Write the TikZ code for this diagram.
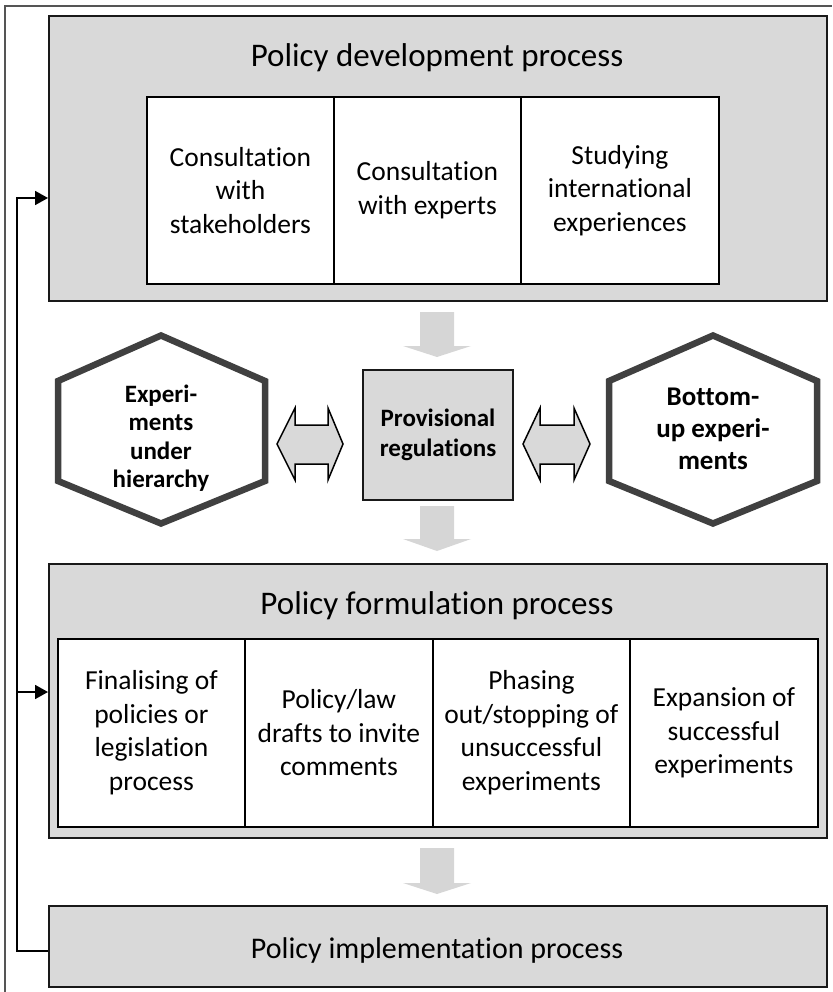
\documentclass[tikz,border=0pt]{standalone}
\usepackage{fontspec}
\setmainfont{Carlito}[RawFeature={-liga;-rlig;-clig;-calt;-dlig}]
\usetikzlibrary{arrows.meta}
\definecolor{boxgray}{HTML}{D9D9D9}
\definecolor{arrowgray}{HTML}{D6D6D6}
\definecolor{hexline}{HTML}{404040}
\definecolor{framegray}{HTML}{555555}
\begin{document}
\begin{tikzpicture}[x=1pt,y=-1pt,
  proc/.style={draw=black!90, line width=2pt, fill=boxgray, inner sep=0pt, anchor=north west},
  cell/.style={draw=black, line width=1.8pt, fill=white, align=center, inner sep=0pt, anchor=north west, font=\fontsize{27.5}{33.5}\selectfont},
  ttl/.style={anchor=base, font=\fontsize{33}{39}\selectfont, inner sep=0pt},
  hexfr/.style={draw=hexline, line width=6.5pt, fill=white, line join=miter},
  btxt/.style={align=center, font=\fontsize{25}{29.5}\selectfont\bfseries, inner sep=0pt},
  darr/.style={fill=arrowgray, draw=none},
  harr/.style={fill=boxgray, draw=black, line width=1.5pt, line join=miter},
  fb/.style={draw=black, line width=1.8pt},
  fbarrow/.style={fb, -{Triangle[length=13pt,width=14pt]}}
]
\useasboundingbox (0,0) rectangle (832,992);
% outer frame
\draw[framegray, line width=1.5pt] (5,992) -- (5,6) -- (832,6);

% development process
\node[proc, minimum width=778pt, minimum height=285pt] (dev) at (48,15) {};
\node[ttl] (devt) at (437,67) {Policy development process};
\node[cell, minimum width=187pt, minimum height=187pt] (d1) at (146,96) {Consultation\\with\\stakeholders};
\node[cell, minimum width=187pt, minimum height=187pt] (d2) at (333,96) {Consultation\\with experts};
\node[cell, minimum width=198pt, minimum height=187pt] (d3) at (520,96) {Studying\\international\\experiences};

% down arrow 1
\fill[darr] (420,312) -- (454,312) -- (454,346) -- (471,346) -- (437,357) -- (403,346) -- (420,346) -- cycle;

% middle row
\draw[hexfr] (161,335.5) -- (265,381) -- (265,481) -- (161,523.5) -- (58,481) -- (58,381) -- cycle;
\node[btxt, font=\fontsize{25}{28.5}\selectfont\bfseries] (hexLt) at (161,438) {Experi-\\ments\\under\\hierarchy};

\node[proc, minimum width=150pt, minimum height=130pt] (prov) at (362,369) {};
\node[btxt] (provt) at (prov.center) {Provisional\\regulations};

\draw[hexfr] (713,335.5) -- (817,381) -- (817,481) -- (713,523.5) -- (609,481) -- (609,381) -- cycle;
\node[btxt, font=\fontsize{27}{32}\selectfont\bfseries] (hexRt) at (713,429) {Bottom-\\up experi-\\ments};

\draw[harr] (277,444) -- (295,408) -- (295,425) -- (328,425) -- (328,408) -- (343,444) -- (328,480) -- (328,464) -- (295,464) -- (295,480) -- cycle;
\draw[harr] (523,444) -- (540,408) -- (540,425) -- (574,425) -- (574,408) -- (590,444) -- (574,480) -- (574,464) -- (540,464) -- (540,480) -- cycle;

% down arrow 2
\fill[darr] (420,506) -- (454,506) -- (454,539) -- (471,539) -- (437,551) -- (403,539) -- (420,539) -- cycle;

% formulation process
\node[proc, minimum width=778pt, minimum height=274pt] (form) at (48,563) {};
\node[ttl] (formt) at (437,614) {Policy formulation process};
\node[cell, minimum width=187pt, minimum height=188pt] (f1) at (57,638) {Finalising of\\policies or\\legislation\\process};
\node[cell, minimum width=188pt, minimum height=188pt] (f2) at (244,638) {Policy/law\\drafts to invite\\comments};
\node[cell, minimum width=197pt, minimum height=188pt] (f3) at (432,638) {Phasing\\out/stopping of\\unsuccessful\\experiments};
\node[cell, minimum width=188pt, minimum height=188pt] (f4) at (629,638) {Expansion of\\successful\\experiments};

% down arrow 3
\fill[darr] (420,848) -- (454,848) -- (454,883) -- (471,883) -- (437,894) -- (403,883) -- (420,883) -- cycle;

% implementation process
\node[proc, minimum width=778pt, minimum height=81pt] (impl) at (48,905) {};
\node[ttl, font=\fontsize{30}{36}\selectfont] (implt) at (437,958) {Policy implementation process};

% feedback loop
\coordinate (fbB) at (17,951);
\coordinate (fbT) at (17,198);
\coordinate (fbM) at (17,692);
\draw[fbarrow] (impl.west |- fbB) -- (fbB) -- (fbT) -- (dev.west |- fbT);
\draw[fbarrow] (fbM) -- (form.west |- fbM);
\end{tikzpicture}
\end{document}
